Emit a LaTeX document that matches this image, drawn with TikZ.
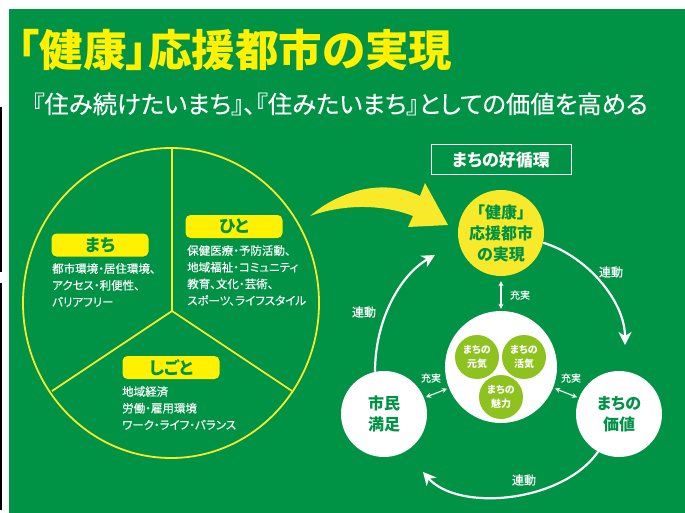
\documentclass[tikz,border=0pt]{standalone}
\usepackage{fontspec}
\setmainfont{Noto Sans CJK JP}[RawFeature=+palt]
\newfontfamily\jpm[RawFeature=+palt, FakeBold=0.4]{Noto Sans CJK JP}
\usetikzlibrary{arrows.meta}
\definecolor{bg}{HTML}{009245}
\definecolor{ylw}{HTML}{FFF100}
\definecolor{ylw2}{HTML}{F8EA2A}
\definecolor{lg}{HTML}{8DC21F}
\tikzset{
  pill/.style={fill=ylw, rounded corners=5pt, minimum width=97pt, minimum height=23pt, inner sep=0pt, text=bg, font=\bfseries\fontsize{17}{17}\selectfont},
  body/.style={text=white, align=left, inner sep=0pt, anchor=north west, font=\jpm\fontsize{11.5}{16.7}\selectfont},
  bigc/.style={circle, minimum size=86pt, inner sep=0pt, text=bg, align=center, font=\bfseries\fontsize{16}{21}\selectfont},
  smallc/.style={circle, fill=lg, minimum size=44pt, inner sep=0pt, text=white, align=center, font=\bfseries\fontsize{10}{14}\selectfont},
  conn/.style={draw=white, line width=2.2pt, -{Stealth[length=13pt,width=13pt,inset=4pt]}},
  dbl/.style={draw=white, line width=1.1pt, {Stealth[length=5pt,width=5pt]}-{Stealth[length=5pt,width=5pt]}, shorten <=2pt, shorten >=2pt},
  lbl/.style={text=white, inner sep=0pt, font=\jpm\fontsize{12}{12}\selectfont},
  slbl/.style={text=white, inner sep=0pt, font=\jpm\fontsize{10}{10}\selectfont},
  pie/.style={draw=ylw2, line width=1.8pt},
}
\begin{document}
\begin{tikzpicture}[x=1pt,y=-1pt]
\useasboundingbox (0,0) rectangle (685,513);
\fill[white] (0,0) rectangle (685,513);
\fill[bg] (9,9) rectangle (685,513);
\fill[black] (0,107) rectangle (2,272);
\fill[black] (0,283) rectangle (2,510);

% titles
\node[text=ylw, inner sep=0pt, font=\bfseries\fontsize{43.5}{43.5}\selectfont] (title) at (235,50) {「健康」応援都市の実現};
\node[text=white, inner sep=0pt, font=\jpm\fontsize{24.4}{24.4}\selectfont] (sub) at (340,104) {『住み続けたいまち』、『住みたいまち』としての価値を高める};

% pie
\draw[pie] (171,303) ellipse [x radius=148, y radius=155];
\coordinate (hub) at (172,311);
\coordinate (ptop) at (172,148);
\coordinate (pl) at (52,391);
\coordinate (pr) at (292,391);
\draw[pie] (ptop) -- (hub) -- (pl);
\draw[pie] (hub) -- (pr);

\node[pill] (machi) at (100,245) {まち};
\node[pill] (hito) at (234,226.5) {ひと};
\node[pill] (shigoto) at (171,367.5) {しごと};

\node[body] (tmachi) at (52,263) {都市環境・居住環境、\\アクセス・利便性、\\バリアフリー};
\node[body] (thito) at (187,245) {保健医療・予防活動、\\地域福祉・コミュニティ\\教育、文化・芸術、\\スポーツ、ライフスタイル};
\node[body] (tshigoto) at (122,386) {地域経済\\労働・雇用環境\\ワーク・ライフ・バランス};

% big yellow arrow
\fill[ylw2] (310,216) .. controls (340,190) and (385,178) .. (420,196) -- (425,183) -- (448,225) -- (408,227) -- (413,216) .. controls (380,203) and (340,205) .. (310,216) -- cycle;

% cycle
\node[draw=white, line width=1pt, minimum width=140pt, minimum height=30pt, inner sep=0pt, text=white, font=\bfseries\fontsize{17}{17}\selectfont] (cyc) at (501,160) {まちの好循環};

\node[bigc, fill=ylw2] (yc) at (501,233) {「健康」\\応援都市\\の実現};
\node[bigc, fill=white] (blc) at (384,414) {市民\\満足};
\node[bigc, fill=white] (brc) at (619,414) {まちの\\価値};
\node[circle, fill=white, minimum size=112pt, inner sep=0pt] (ctr) at (501,367) {};
\node[smallc] (s1) at (477,357) {まちの\\元気};
\node[smallc] (s2) at (524,357) {まちの\\活気};
\node[smallc] (s3) at (501,397) {まちの\\魅力};

\draw[dbl, shorten <=5pt] (yc) -- (ctr);
\draw[dbl] (blc) -- (ctr);
\draw[dbl] (brc) -- (ctr);
\node[slbl] (j1) at (520,295) {充実};
\node[slbl] (j2) at (431,378) {充実};
\node[slbl] (j3) at (571,378) {充実};

\coordinate (e1) at (625,345);
\coordinate (e2) at (423,472);
\coordinate (e3) at (435,255);
\draw[conn] (yc.-13) .. controls (585,255) and (625,300) .. (e1);
\draw[conn] (brc.-119) .. controls (562,503) and (458,512) .. (e2);
\draw[conn] (blc.102) .. controls (375,320) and (400,275) .. (e3);
\node[lbl] (r1) at (611,272) {連動};
\node[lbl] (r2) at (364,312) {連動};
\node[lbl] (r3) at (524,480) {連動};
\end{tikzpicture}
\end{document}
